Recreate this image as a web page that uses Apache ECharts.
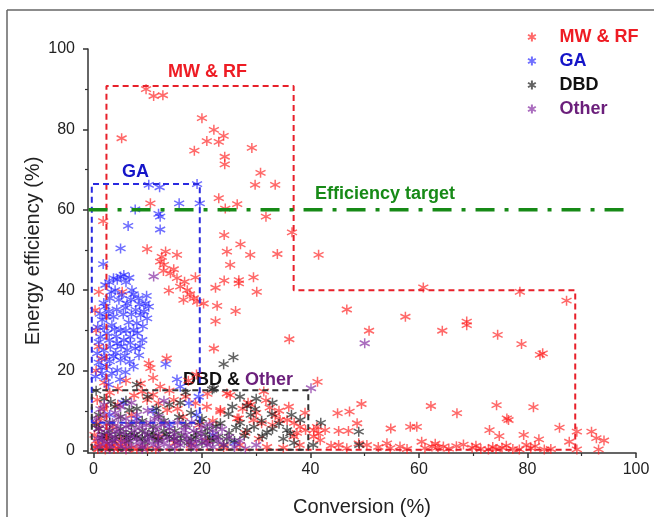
<!DOCTYPE html>
<html><head><meta charset="utf-8">
<script src="https://cdn.jsdelivr.net/npm/echarts@6/dist/echarts.min.js"></script>
<style>html,body{margin:0;padding:0;background:#fff}#c{width:654px;height:517px}</style>
</head><body><div id="c"></div>
<script>
// ---- data (x = Conversion %, y = Energy efficiency %) ----
const seriesNames = ['MW & RF', 'GA', 'DBD', 'Other'];
const xTicks = [0, 20, 40, 60, 80, 100];
const yTicks = [0, 20, 40, 60, 80, 100];
const xMinorTicks = [10, 30, 50, 70, 90];
const yMinorTicks = [10, 30, 50, 70, 90];
const efficiencyTarget = 60;

const mwrf = [
 [9.7,90],[11.1,88.3],[12.8,88.5],[20,82.8],[22.2,79.9],[24,78.4],[20.9,77.1],[23.1,76.9],[5.2,77.8],[18.6,74.7],
 [29.2,75.4],[24.2,73.2],[24.2,71.3],[30.8,69.2],[29.8,66.2],[33.5,66.2],[23.1,62.9],[10.5,61.6],[26.5,61.4],[24.3,60.3],
 [31.8,58.3],[1.8,57.2],[36.6,54.4],[24.1,53.7],[27.1,51.4],[9.9,50.2],[13.3,49.6],[15.4,48.8],[12.6,48.3],[24.6,49.6],
 [28.9,48.8],[33.9,49],[41.5,48.8],
 [12.3,47.1],[13,46.3],[14.2,44.2],[15.4,43],[16,40.9],[17.3,40],[13.9,39.9],[16.6,37.6],[18.5,38],[19.1,37.1],
 [20.3,36.7],[18.8,43.2],[25.2,46.3],[24.1,42.4],[26.8,42.5],[26.8,41.7],[29.5,43.2],[30.1,39.6],[22.5,40.6],[22.8,36.1],
 [26.2,34.8],[22.5,32.3],[36.1,27.8],[22.2,25.5],[1,39.6],[5.3,39.6],[10.2,21.8],[10.5,20.6],[8.7,16.8],[12.3,16],
 [24.6,14.3],[31.4,14.8],[41.3,17.2],[14.8,45.2],[16.8,42.1],[12.9,44.8],[17.8,39.0],
 [60.8,40.7],[78.6,39.6],[87.2,37.4],[46.7,35.2],[57.5,33.4],[68.8,32.2],[68.8,31.3],[50.8,29.9],[64.3,29.9],[74.5,28.9],
 [78.9,26.6],[82.3,23.9],[82.8,24.3],[49.4,11.7],[45,9.4],[47.2,9.8],[62.2,11.2],[67,9.4],[74.3,11.4],[81.1,10.9],
 [76.2,8.1],[76.5,7.7],[73,5.2],[74.8,3.7],[79.3,4],[82.1,2.9],[85.9,5.8],[89.1,4.8],[91.8,4.8],[92.7,3.2],
 [94.1,2.6],[93.1,0.4],[87.7,2.3],[89.1,0.4],[54.8,5.6],[58.4,6],[59.6,6],[45.2,5],[47,5],[48.6,6.9],
 [45.2,1.5],[46.7,0.7],[48.9,1.9],[50.4,1.5],[54.1,1.9],[54.7,0.7],[56.5,1.1],[60.5,2.3],[61.1,0.7],[62.4,1.1],
 [63.5,0.9],[64.5,1.1],[65.5,0.6],[66.9,1.2],[68.2,1.6],[69.8,0.8],[71.4,0.5],[72.8,0.4],[74.2,0.5],[75.3,0.8],
 [76.1,1.3],[77.3,0.5],[78.5,0.4],[80.6,0.7],[81.4,1.2],[83.1,0.4],[84.3,0.5],[39.1,5.2],[40.6,5.2],[41.5,4.4],
 [42.7,5.2],[40.6,3.6],[41.8,2.7],[43.8,1.3],[52.5,1.0],[57.8,0.5],[63.0,1.8],[70.5,1.3],[79.8,1.5],[73.6,1.0],
 [0.7,12.7],[1.3,8.1],[9.9,12.7],[12,11.9],[14.8,12.7],[13.6,10.2],[18.8,11.9],[23.4,9.8],[26.5,8.1],[31,6.9],
 [35.7,7.7],[38.1,6],[29.5,7.7],[34.4,7.7],[41.2,6],[36.9,3.6],[20.9,11],[25.2,13.9],[23.4,10.2],[26.8,8.1],
 [33,6.5],[37.5,4.5],[28,4.5],[30.5,3],[16.5,8.5],[19.5,6.5],[7,9],[4.5,11.5],[3,14.5],[2,17],
 [0.5,20],[1.5,23],[3.5,6],[5,3],[0.3,1],[0.8,0.5],[1.5,0.8],[2.2,0.4],[3,0.9],[3.8,0.5],
 [4.5,0.7],[5.3,1.2],[6,0.4],[7,0.8],[8,0.5],[9,1.0],[10,0.6],[11.5,0.5],[0.5,2.5],[0.2,4],
 [1,5.5],[2.5,3],[12,3.5],[15,2],[18,1.5],[21,2.5],[24,1],[27,1.5],[32,1],[35,0.8],
 [38,1.5],[6,17.5],[4.5,15.5],[9,14.8],[14,15],[17,13.5],[21,14.2],[28.5,12],[32.5,10.8],[36,11],
 [39,9.5],[0.3,35],[0.5,30],[1,26],[17.5,17.5],[19,19],[13.5,23],[1.2,1.6],[2.6,1.8],[4.1,1.9],
 [5.8,2.0],[0.6,7],[1.8,10.5],[11,14],[15.5,10.5],[22,7.5],[27.5,10.5],[30,9.5],[33.5,8.8],[37,7],
 [31.8,12.6],[34.2,10],[29,11.5],[11,18.2],[7.5,13.8]
];
const ga = [
 [10.2,66.2],[12.2,65.6],[19.1,66.4],[15.8,61.6],[19.6,61.6],[12,59],[12.3,58.3],[6.4,56],[12.3,55.1],[5,50.4],
 [7.7,60.1],[1.8,46.5],[3.7,43],[5,43.4],[5.6,43.8],[2.2,41.3],[7.1,40],[7.4,39],[8.3,38],[9.6,36.7],
 [10.2,35.9],[9.3,34.7],[8.7,33.8],[9.9,33],[8,31.8],[7.4,30.1],[6.8,28.4],[5.6,27.6],[4.4,26.8],[3.1,25.9],
 [2.5,29.3],[1.3,28.4],[1.9,25.1],[0.7,24.3],[3.7,23.5],[2.5,21],[5,22.6],[6.2,25.1],[7.7,25.5],[9,27.6],
 [7.4,21],[4.4,20.1],[3.4,19.3],[1.6,19.3],[0.4,18.5],[2.2,35.9],[2.8,34.7],[1.6,32.6],[3.4,31.3],[5,30.1],
 [3.7,33.4],[6.2,36.7],[4.7,37.6],[4,40],[6,42],[3,38],[5.5,34],[7,34],[8.5,36.5],[4.2,28.5],
 [6.5,32],[1,22],[2.8,16.5],[13.3,21.6],[15.4,17.8],[16,16],[19.4,13.5],[17.6,11.9],[11,10],[8,8],
 [14,6.5],[22,4],[26,2],[19,9],[5.5,12],[3,9],
 [4.4,42.6],[6.6,43.1],[2.9,42.0],[3.3,39.6],[5.2,38.8],[6.9,37.7],[1.9,36.8],[2.4,33.4],[4.3,35.2],[5.9,35.6],
 [7.8,35.1],[8.1,29.3],[6.0,29.9],[3.9,30.3],[2.0,30.7],[1.0,27.1],[2.9,27.6],[5.1,26.0],[6.8,26.9],[8.6,26.1],
 [2.1,23.4],[4.1,24.4],[5.8,23.7],[6.7,22.2],[3.0,22.3],[1.4,20.8],[0.8,30.8],[1.2,34.1],[9.1,31.0],[8.4,23.8],
 [2.3,18.2],[5.9,19.6],[4.9,17.8],[9.8,38.6]
];
const dbd = [
 [25.8,23.3],[24,21.6],[21.9,15.3],[25.6,11],[28.3,11.2],[32.9,9.2],[31.1,3.6],[28.3,5.2],[23.4,6.9],[38.1,7.7],
 [35.7,5.2],[22.2,15.6],[41.9,7],[48.9,4.8],[49,1.5],[40.5,1.5],[0.5,15],[2,13],[4,11],[6,12.5],
 [8,10.5],[10,13.5],[12,9],[14,11.5],[16,12],[18,9.5],[20,8],[1,9],[3,7],[5,8.5],
 [7,6.5],[9,7.5],[11,6],[13,7.5],[15,5],[17,6.5],[19,4.5],[21,5.5],[23,3.5],[25,4.5],
 [27,7],[29,9],[31,7.5],[33,5.5],[35,3],[37,2],[2,4],[4,3.5],[6,4],[8,3.5],
 [10,4],[12,3],[14,3.5],[16,2.5],[18,3],[20,2],[22,2.5],[24,1.5],[26,2.5],[1,5.5],
 [3,5],[5,5.5],[7,4.5],[9,5],[11,4.5],[13,5],[0.5,6.5],[3.5,2.5],[6.5,2.5],[9.5,2.2],
 [30,13],[27,13.5],[33,12],[36.5,9],[17,14.5],[8,16.5],
 [2.5,3.8],[4.8,4.2],[7.6,3.9],[10.8,3.6],[13.4,4.1],[16.2,3.8],[18.8,3.4],[21.4,3.2],[1.6,3.3],[6.1,3.3],
 [9.0,3.1],[11.9,2.6],[14.8,3.1],[17.6,2.1],[20.6,4.2],[24.6,3.0],[27.8,3.8],[29.6,6.0],[32.0,4.6],[34.2,6.8],
 [36.3,4.4],[26.3,5.8],[22.6,6.1],[19.6,7.2],[15.8,8.4],[11.6,10.6],[6.6,10.2],[3.2,12.2],[24.9,9.2],[29.8,10.4]
];
const other = [
 [11.1,43.4],[50,26.8],[40.1,15.6],[1,1],[2,2],[3,1.5],[4,3],[5,1],[6,2.5],[7,1.5],
 [8,3],[9,1],[10,2.5],[11,1.5],[12,4],[13,2],[14,1],[15,3],[16,1.5],[17,4],
 [18,2],[19,1],[20,3],[21,1.5],[22,1],[23,2.5],[24,1.5],[26,1],[1.5,4],[2.5,5.5],
 [3.5,7],[4.5,6],[5.5,4.5],[6.5,6.5],[7.5,5],[8.5,6],[9.5,4.5],[10.5,7],[11.5,5.5],[12.5,6.5],
 [14,5.5],[15.5,7],[17,6],[18.5,5],[20,6],[22,5],[0.5,8],[2,9],[4,9.5],[6,8],
 [8,9],[10,10],[12,8.5],[0.8,3],[3,0.5],[6,0.5],[9,0.5],[12,0.8],[15,0.6],[18,0.8],
 [25,3.5],[27,2.5],[5,11],[2,11.5],[7,12],[13,12.5],[28,0.6],[30,1.5],
 [1.7,2.8],[3.4,2.4],[5.1,2.2],[6.8,3.6],[8.6,2.0],[10.3,3.4],[11.9,2.4],[13.6,3.2],[15.4,2.1],[17.2,2.9],
 [19.0,2.4],[20.8,2.2],[22.6,3.6],[2.4,6.8],[4.2,4.8],[6.0,6.0],[7.9,7.2],[9.7,6.4],[11.3,8.0],[13.2,6.9],
 [14.9,4.2],[16.7,5.2],[18.1,7.2],[19.8,4.4],[21.4,6.6],[23.7,5.4],[0.9,5.6],[3.0,4.1],[1.3,10.4],[4.6,8.3]
];
// region boxes (data coordinates)
const mwrfBox = [[2.4,0.3],[2.4,90.8],[36.9,90.8],[36.9,40],[88.8,40],[88.8,0.3],[2.4,0.3]];
const gaBox = [[-0.3,7],[-0.3,66.4],[19.6,66.4],[19.6,7],[-0.3,7]];
const dbdBox = [[-0.3,0.3],[-0.3,15.1],[39.6,15.1],[39.6,0.3],[-0.3,0.3]];
const targetLine = [[-0.9, efficiencyTarget], [99, efficiencyTarget]];

// ---- chart ----
const star = 'path://M5 0L5 10M0.67 2.5L9.33 7.5M0.67 7.5L9.33 2.5';
const FONT = '"Liberation Sans", Arial, sans-serif';
const colors = {
  mw: 'rgba(255,20,20,0.8)', ga: 'rgba(30,30,255,0.8)', dbd: 'rgba(10,10,10,0.8)', other: 'rgba(130,40,160,0.85)'
};
function sc(name, data, col) {
  return { type: 'scatter', name, data, symbol: star, symbolSize: 10, silent: true,
    itemStyle: { color: 'transparent', borderColor: col, borderWidth: 1.5 } };
}
function box(data, col, w, dash) {
  return { type: 'line', data, symbol: 'none', silent: true, z: 5, xAxisIndex: 0, yAxisIndex: 0,
    lineStyle: { color: col, width: w, type: dash } };
}
const chart = echarts.init(document.getElementById('c'), null, { renderer: 'canvas' });
const axisCommon = {
  axisLine: { show: true, onZero: false, lineStyle: { color: '#333', width: 1.5 } },
  splitLine: { show: false }
};
chart.setOption({
  animation: false,
  grid: { left: 88, right: 18, top: 49, bottom: 64, containLabel: false, outerBoundsMode: 'none' },
  xAxis: [
    Object.assign({}, axisCommon, { type: 'value', min: -1, max: 100,
      name: 'Conversion (%)', nameLocation: 'middle', nameGap: 44, nameMoveOverlap: false,
      nameTextStyle: { fontFamily: FONT, fontSize: 20, color: '#222' },
      axisTick: { show: true, length: 5, inside: false, customValues: xTicks, lineStyle: { color: '#333', width: 1.5 } },
      axisLabel: { customValues: xTicks, margin: 9, fontFamily: FONT, fontSize: 16, color: '#222' } }),
    { type: 'value', min: -1, max: 100, position: 'bottom', axisLine: { show: false, onZero: false }, splitLine: { show: false },
      axisLabel: { show: false }, axisTick: { show: true, length: 3, customValues: xMinorTicks, lineStyle: { color: '#333', width: 1.2 } } }
  ],
  yAxis: [
    Object.assign({}, axisCommon, { type: 'value', min: -0.5, max: 100,
      name: 'Energy efficiency (%)', nameLocation: 'middle', nameGap: 45, nameMoveOverlap: false,
      nameTextStyle: { fontFamily: FONT, fontSize: 20, color: '#222' },
      axisTick: { show: true, length: 5, customValues: yTicks, lineStyle: { color: '#333', width: 1.5 } },
      axisLabel: { customValues: yTicks, margin: 13, fontFamily: FONT, fontSize: 16, color: '#222' } }),
    { type: 'value', min: -0.5, max: 100, position: 'left', axisLine: { show: false, onZero: false }, splitLine: { show: false },
      axisLabel: { show: false }, axisTick: { show: true, length: 3, customValues: yMinorTicks, lineStyle: { color: '#333', width: 1.2 } } }
  ],
  legend: {
    orient: 'vertical', left: 522, top: 23, itemGap: 6, itemWidth: 9, itemHeight: 9, selectedMode: false,
    textStyle: { fontFamily: FONT, fontSize: 18, fontWeight: 'bold', padding: [0, 0, 0, 18] },
    data: [
      { name: seriesNames[0], textStyle: { color: '#ee1c24' } },
      { name: seriesNames[1], textStyle: { color: '#1515c8' } },
      { name: seriesNames[2], textStyle: { color: '#111' } },
      { name: seriesNames[3], textStyle: { color: '#6b1f7b' } }
    ]
  },
  series: [
    sc(seriesNames[0], mwrf, colors.mw),
    sc(seriesNames[1], ga, colors.ga),
    sc(seriesNames[2], dbd, colors.dbd),
    sc(seriesNames[3], other, colors.other),
    box(mwrfBox, '#e8202a', 2, [6, 4]),
    box(gaBox, '#2a2ae0', 2, [6, 4]),
    box(dbdBox, '#333', 2, [6, 4]),
    box(targetLine, '#178a17', 3.5, [19, 10, 4, 10])
  ],
  graphic: [
    { type: 'line', shape: { x1: 7, y1: 10, x2: 654, y2: 10 }, style: { stroke: '#666', lineWidth: 1.5 } },
    { type: 'line', shape: { x1: 7, y1: 10, x2: 7, y2: 517 }, style: { stroke: '#666', lineWidth: 1.5 } },
    { type: 'text', left: 168, top: 63, style: { text: 'MW & RF', fill: '#ee1c24', font: 'bold 18px ' + FONT } },
    { type: 'text', left: 122, top: 163, style: { text: 'GA', fill: '#1515c8', font: 'bold 18px ' + FONT } },
    { type: 'text', left: 315, top: 185, style: { text: 'Efficiency target', fill: '#178a17', font: 'bold 18px ' + FONT } },
    { type: 'text', left: 183, top: 371, style: { text: '{a|DBD & }{b|Other}',
        rich: { a: { fill: '#111', font: 'bold 18px ' + FONT }, b: { fill: '#6b1f7b', font: 'bold 18px ' + FONT } } } }
  ]
});
</script></body></html>
